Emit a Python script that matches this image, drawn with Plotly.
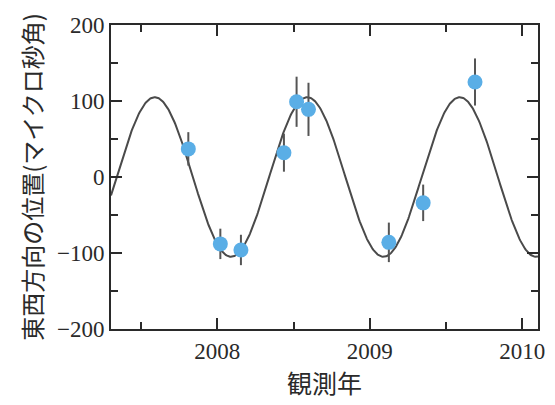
import numpy as np
import plotly.graph_objects as go

# Observed east-west offsets (micro-arcseconds) with 1-sigma errors
obs_year = [2007.81, 2008.02, 2008.155, 2008.437, 2008.52, 2008.598, 2009.125, 2009.35, 2009.69]
obs_offset = [37, -88, -96, 32, 99, 89, -86, -34, 125]
obs_error = [22, 20, 20, 25, 33, 35, 26, 24, 31]

# Annual parallax model: amplitude (µas), period (yr), epoch of maximum
parallax_amp = 105
parallax_period = 1.0
parallax_peak = 2007.59

# Axis ticks: first label and step for the major ticks, plus half-step minors
x_tick_start, x_tick_step = 2008, 1
y_tick_start, y_tick_step = -200, 100
x_minor_vals = [2007.5, 2008.5, 2009.5]
y_minor_vals = [-150, -50, 50, 150]

x_range = [2007.303, 2010.103]
y_range = [-200, 200]
t = np.linspace(x_range[0], x_range[1], 600)
model = parallax_amp * np.cos(2 * np.pi * (t - parallax_peak) / parallax_period)

fig = go.Figure()
fig.add_trace(go.Scatter(
    x=t, y=model, mode="lines",
    line=dict(color="#4a4a4a", width=2),
    hoverinfo="skip",
))
# Observations sit on the overlaid axes (same ranges), which also draw the
# top and right sides of the frame
fig.add_trace(go.Scatter(
    x=obs_year, y=obs_offset, mode="markers", xaxis="x2", yaxis="y2",
    marker=dict(color="#5aaee6", size=15, line=dict(width=0)),
    error_y=dict(type="data", array=obs_error, color="#555555", thickness=2, width=0),
))

ink = "#2a2a2a"
axis_font = dict(family="Liberation Serif", size=23, color=ink)


def frame_axis(tick0, dtick, minor_vals, rng):
    return dict(
        range=rng, tickmode="linear", tick0=tick0, dtick=dtick, tickformat="d",
        ticks="inside", ticklen=11, tickwidth=2, tickcolor=ink,
        showline=True, linecolor=ink, linewidth=2, layer="above traces",
        showgrid=False, zeroline=False, tickfont=axis_font,
        minor=dict(tickmode="array", tickvals=minor_vals, ticks="inside",
                   ticklen=7, tickwidth=2, tickcolor=ink, showgrid=False),
    )


xaxis = frame_axis(x_tick_start, x_tick_step, x_minor_vals, x_range)
xaxis.update(title=dict(text="観測年", font=dict(family="Noto Sans CJK JP", size=25, color=ink), standoff=6))
yaxis = frame_axis(y_tick_start, y_tick_step, y_minor_vals, y_range)
yaxis.update(title=dict(text="東西方向の位置(マイクロ秒角)", font=dict(family="Noto Sans CJK JP", size=24, color=ink), standoff=8))

xaxis2 = frame_axis(x_tick_start, x_tick_step, x_minor_vals, x_range)
xaxis2.update(overlaying="x", side="top", anchor="y2", showticklabels=False)
yaxis2 = frame_axis(y_tick_start, y_tick_step, y_minor_vals, y_range)
yaxis2.update(overlaying="y", side="right", anchor="x2", showticklabels=False)

fig.update_layout(
    width=555, height=405,
    margin=dict(l=111, r=10, t=25, b=76),
    paper_bgcolor="white", plot_bgcolor="rgba(0,0,0,0)",
    showlegend=False,
    xaxis=xaxis, yaxis=yaxis, xaxis2=xaxis2, yaxis2=yaxis2,
)

fig.write_html("out.html")
